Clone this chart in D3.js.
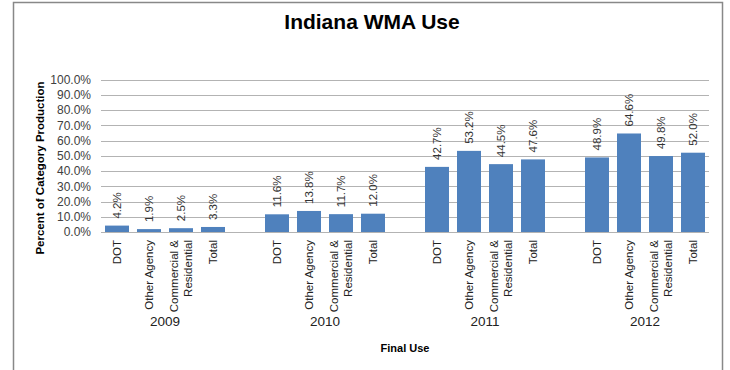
<!DOCTYPE html>
<html><head><meta charset="utf-8">
<script src="https://cdn.jsdelivr.net/npm/d3@7"></script>
<style>body{margin:0;background:#fff}svg{display:block}text{font-family:"Liberation Sans",Arial,sans-serif}</style>
</head><body>
<svg id="c" width="730" height="370"></svg>
<script>
const years = ["2009","2010","2011","2012"];
const categories = ["DOT","Other Agency","Commercial &\nResidential","Total"];
const values2009 = [4.2, 1.9, 2.5, 3.3];
const values2010 = [11.6, 13.8, 11.7, 12.0];
const values2011 = [42.7, 53.2, 44.5, 47.6];
const values2012 = [48.9, 64.6, 49.8, 52.0];
const yTicks = [0,10,20,30,40,50,60,70,80,90,100];
const seriesByYear = [values2009, values2010, values2011, values2012];

const svg = d3.select("#c");
// chart frame
svg.append("rect").attr("x",13.5).attr("y",2.5).attr("width",709).attr("height",380)
  .attr("fill","#fff").attr("stroke","#888").attr("stroke-width",1.5);

svg.append("text").attr("x",372).attr("y",29).attr("text-anchor","middle")
  .attr("font-size",21).attr("font-weight","bold").attr("fill","#000").text("Indiana WMA Use");

// slots: categories per year plus a blank slot between years
const slots = [];
const bars = [];
years.forEach((yr,i)=>{
  categories.forEach((c,j)=>{ const k=yr+"|"+j; slots.push(k); bars.push({key:k,year:yr,cat:c,v:seriesByYear[i][j]}); });
  if(i<years.length-1) slots.push("gap"+i);
});

const x = d3.scaleBand().domain(slots).range([101,709]).paddingInner(0.25).paddingOuter(0.125);
const y = d3.scaleLinear().domain([0,100]).range([232,79.5]);

// gridlines
svg.append("g").selectAll("line").data(yTicks).join("line")
  .attr("x1",101).attr("x2",709).attr("y1",d=>Math.round(y(d))+0.5).attr("y2",d=>Math.round(y(d))+0.5)
  .attr("stroke","#b3b3b3").attr("stroke-width",1);

// y axis labels
const yAxis = d3.axisLeft(y).tickValues(yTicks).tickFormat(d=>d.toFixed(1)+"%").tickSize(0).tickPadding(10);
const ga = svg.append("g").attr("transform","translate(101,0)").call(yAxis);
ga.select(".domain").remove();
ga.selectAll("text").attr("font-size",12).attr("fill","#404040").attr("font-family","Liberation Sans, Arial, sans-serif");

// bars
svg.append("g").selectAll("rect").data(bars).join("rect")
  .attr("x",d=>x(d.key)).attr("width",x.bandwidth())
  .attr("y",d=>y(d.v)).attr("height",d=>y(0)-y(d.v))
  .attr("fill","#4F81BD");

// value labels
svg.append("g").selectAll("text").data(bars).join("text")
  .attr("transform",d=>`translate(${x(d.key)+x.bandwidth()/2+4},${y(d.v)-7}) rotate(-90)`)
  .attr("font-size",11.5).attr("fill","#333").text(d=>d.v.toFixed(1)+"%");

// category labels
const cl = svg.append("g").selectAll("text").data(bars).join("text")
  .attr("transform",d=>`translate(${x(d.key)+x.bandwidth()/2},240) rotate(-90)`)
  .attr("text-anchor","end").attr("font-size",11.5).attr("fill","#222");
cl.each(function(d){
  const lines = d.cat.split("\n");
  const t = d3.select(this);
  lines.forEach((ln,i)=>{
    t.append("tspan").attr("x",0)
     .attr("dy", i===0 ? (lines.length===1? "0.35em" : "-0.25em") : "1.2em").text(ln);
  });
});

// year labels
svg.append("g").selectAll("text").data(years).join("text")
  .attr("x",yr=>(x(yr+"|0")+x(yr+"|3")+x.bandwidth())/2).attr("y",326)
  .attr("text-anchor","middle").attr("font-size",13.5).attr("fill","#222").text(d=>d);

svg.append("text").attr("x",405).attr("y",352).attr("text-anchor","middle")
  .attr("font-size",11).attr("font-weight","bold").attr("fill","#000").text("Final Use");

svg.append("text").attr("transform","translate(44,168) rotate(-90)").attr("text-anchor","middle")
  .attr("font-size",11.5).attr("font-weight","bold").attr("fill","#000").text("Percent of Category Production");
</script>
</body></html>
